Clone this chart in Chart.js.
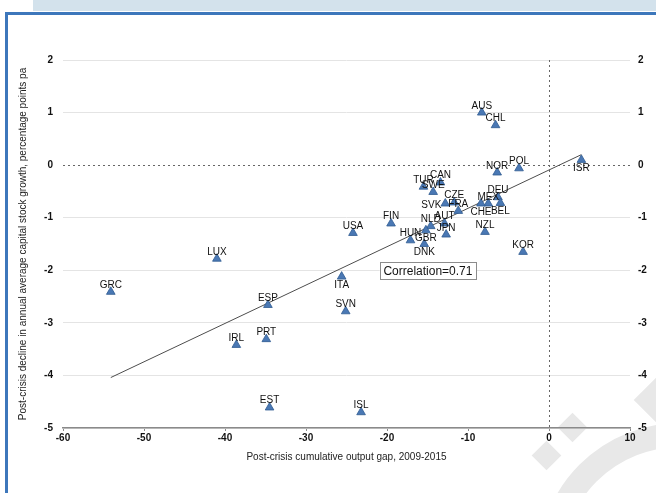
<!DOCTYPE html>
<html>
<head>
<meta charset="utf-8">
<script src="https://cdn.jsdelivr.net/npm/chart.js@4.4.1/dist/chart.umd.min.js"></script>
<style>
  html, body { margin: 0; padding: 0; background: #fff; }
  body { width: 656px; height: 493px; position: relative; overflow: hidden; }
  .strip { position: absolute; left: 33px; top: 0; width: 623px; height: 11px; background: #d3e2ec; }
  .frame { position: absolute; left: 5px; top: 12px; width: 700px; height: 600px;
           border-top: 3px solid #3d77bb; border-left: 3px solid #3d77bb; }
  .wm { position: absolute; background: #e8e8e8; transform: rotate(45deg); }
  .ring { position: absolute; border-radius: 50%; border: 24px solid #e8e8e8; box-sizing: border-box; }
  canvas { position: absolute; left: 0; top: 0; }
</style>
</head>
<body>
<div class="strip"></div>
<div class="frame"></div>
<div class="wm" style="left:562px; top:417px; width:21px; height:21px;"></div>
<div class="wm" style="left:536px; top:445px; width:21px; height:21px;"></div>
<div class="wm" style="left:642px; top:380px; width:40px; height:40px;"></div>
<div class="ring" style="left:538px; top:423px; width:284px; height:284px;"></div>
<canvas id="chart" width="656" height="493"></canvas>
<script>
// Post-crisis output gap vs decline in capital stock growth
const countries = ['AUS', 'CHL', 'NOR', 'POL', 'ISR', 'TUR', 'CAN', 'SWE', 'SVK', 'CZE',
  'FRA', 'MEX', 'CHE', 'DEU', 'BEL', 'NZL', 'KOR', 'NLD', 'AUT', 'JPN',
  'HUN', 'GBR', 'DNK', 'FIN', 'USA', 'LUX', 'GRC', 'ITA', 'ESP', 'SVN',
  'PRT', 'IRL', 'EST', 'ISL'];
const outputGap = [-8.3, -6.6, -6.4, -3.7, 4.0, -15.5, -13.4, -14.3, -12.8, -11.7,
  -11.2, -7.5, -8.4, -6.3, -6.0, -7.9, -3.2, -14.6, -12.9, -12.7,
  -17.1, -15.2, -15.4, -19.5, -24.2, -41.0, -54.1, -25.6, -34.7, -25.1,
  -34.9, -38.6, -34.5, -23.2];
const capitalDecline = [1.0, 0.76, -0.14, -0.06, 0.1, -0.41, -0.33, -0.51, -0.73, -0.71,
  -0.87, -0.73, -0.73, -0.61, -0.72, -1.27, -1.65, -1.16, -1.11, -1.32,
  -1.43, -1.24, -1.5, -1.11, -1.29, -1.78, -2.41, -2.12, -2.66, -2.78,
  -3.31, -3.42, -4.61, -4.7];

// fitted line, end points
const fitX = [-54.1, 4.0];
const fitY = [-4.04, 0.2];

const correlationLabel = 'Correlation=0.71';
const correlationBoxX = [-20.9, -9.0];
const correlationBoxY = [-1.85, -2.17];

// labels that sit somewhere other than above the marker
const labelSide = { SVK: 'w', CHE: 's', BEL: 's', GBR: 's', DNK: 's', ITA: 's', ISR: 's' };

const FONT = '"Liberation Sans", Arial, Helvetica, sans-serif';
Chart.defaults.font.family = FONT;
Chart.defaults.font.size = 10;
Chart.defaults.color = '#111';

const refLines = {
  id: 'refLines',
  beforeDatasetsDraw(chart) {
    const { ctx, chartArea, scales } = chart;
    const x0 = scales.x.getPixelForValue(0);
    const y0 = scales.y.getPixelForValue(0);
    ctx.save();
    ctx.strokeStyle = '#666';
    ctx.lineWidth = 1;
    ctx.setLineDash([2, 3]);
    ctx.beginPath();
    ctx.moveTo(chartArea.left, Math.round(y0) + 0.5);
    ctx.lineTo(chartArea.right, Math.round(y0) + 0.5);
    ctx.moveTo(Math.round(x0) + 0.5, chartArea.top);
    ctx.lineTo(Math.round(x0) + 0.5, chartArea.bottom);
    ctx.stroke();
    ctx.restore();
  }
};

const pointLabels = {
  id: 'pointLabels',
  afterDatasetsDraw(chart) {
    const { ctx, scales } = chart;
    const meta = chart.getDatasetMeta(0);
    ctx.save();
    ctx.font = '10px ' + FONT;
    ctx.fillStyle = '#111';
    ctx.textBaseline = 'alphabetic';
    meta.data.forEach((el, i) => {
      const side = labelSide[countries[i]] || 'n';
      if (side === 'w') {
        ctx.textAlign = 'right';
        ctx.fillText(countries[i], el.x - 4, el.y + 4);
      } else if (side === 's') {
        ctx.textAlign = 'center';
        ctx.fillText(countries[i], el.x, el.y + 11);
      } else {
        ctx.textAlign = 'center';
        ctx.fillText(countries[i], el.x, el.y - 4);
      }
    });

    // correlation box
    const bx1 = scales.x.getPixelForValue(correlationBoxX[0]);
    const bx2 = scales.x.getPixelForValue(correlationBoxX[1]);
    const by1 = scales.y.getPixelForValue(correlationBoxY[0]);
    const by2 = scales.y.getPixelForValue(correlationBoxY[1]);
    ctx.fillStyle = '#fff';
    ctx.fillRect(bx1, by1, bx2 - bx1, by2 - by1);
    ctx.strokeStyle = '#8c8c8c';
    ctx.lineWidth = 1;
    ctx.strokeRect(Math.round(bx1) + 0.5, Math.round(by1) + 0.5, Math.round(bx2 - bx1), Math.round(by2 - by1));
    ctx.fillStyle = '#111';
    ctx.font = '12px ' + FONT;
    ctx.textAlign = 'center';
    ctx.textBaseline = 'middle';
    ctx.fillText(correlationLabel, (bx1 + bx2) / 2, (by1 + by2) / 2 + 1);
    ctx.restore();
  }
};

new Chart(document.getElementById('chart'), {
  type: 'scatter',
  data: {
    datasets: [{
      data: countries.map((c, i) => ({ x: outputGap[i], y: capitalDecline[i] })),
      pointStyle: 'triangle',
      pointRadius: 5,
      backgroundColor: '#4a78b4',
      borderColor: '#2e5a91',
      borderWidth: 0.8
    }, {
      type: 'line',
      data: fitX.map((x, i) => ({ x: x, y: fitY[i] })),
      borderColor: '#4d4d4d',
      borderWidth: 1,
      pointRadius: 0,
      fill: false
    }]
  },
  options: {
    responsive: false,
    animation: false,
    layout: { padding: { top: 60, left: 17, right: 0, bottom: 30 } },
    plugins: {
      legend: { display: false },
      tooltip: { enabled: false }
    },
    scales: {
      x: {
        type: 'linear',
        min: -60,
        max: 10,
        ticks: { stepSize: 10, padding: 1, color: '#111', font: { weight: 'bold' } },
        grid: { drawOnChartArea: false, drawTicks: true, tickLength: 3, tickColor: '#8a8a8a' },
        border: { display: true, color: '#8a8a8a', width: 1.5 },
        title: {
          display: true,
          text: 'Post-crisis cumulative output gap, 2009-2015',
          color: '#222',
          font: { size: 10 },
          padding: { top: 8, bottom: 0 }
        },
        afterFit(scale) { scale.height = 35; }
      },
      y: {
        min: -5,
        max: 2,
        ticks: { stepSize: 1, padding: 10, color: '#111', font: { weight: 'bold' } },
        grid: {
          drawTicks: false,
          color: ctx => (ctx.tick && ctx.tick.value === 0) ? 'rgba(0,0,0,0)' : '#e4e4e4'
        },
        border: { display: false },
        title: {
          display: true,
          text: 'Post-crisis decline in annual average capital stock growth, percentage points pa',
          color: '#222',
          font: { size: 10 },
          padding: 0
        },
        afterFit(scale) { scale.width = 46; }
      },
      y2: {
        position: 'right',
        min: -5,
        max: 2,
        ticks: { stepSize: 1, padding: 8, color: '#111', font: { weight: 'bold' } },
        grid: { drawOnChartArea: false, drawTicks: false },
        border: { display: false },
        afterFit(scale) { scale.width = 26; }
      }
    }
  },
  plugins: [refLines, pointLabels]
});
</script>
</body>
</html>
